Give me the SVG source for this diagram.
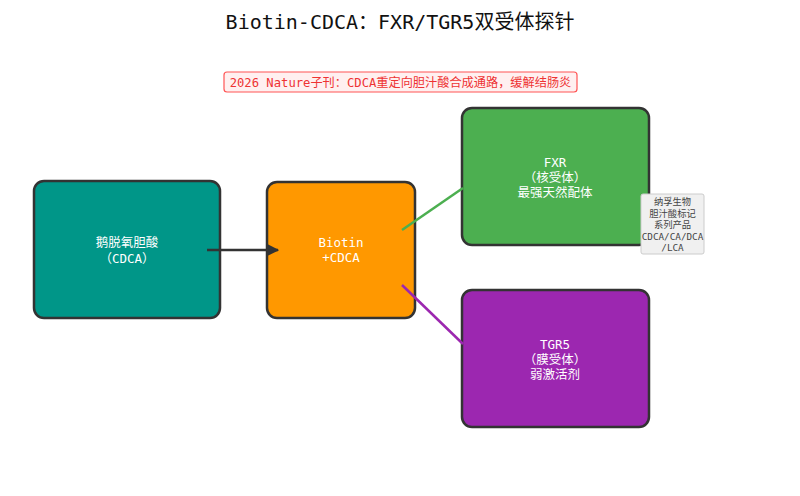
<svg xmlns="http://www.w3.org/2000/svg" width="800" height="496" viewBox="0 0 800 496">
<style>
text{font-family:"DejaVu Sans Mono","Noto Sans CJK SC",monospace;text-anchor:middle}
.node{stroke:#333;stroke-width:2.5}
.lbl{fill:#fff;font-size:12.5px}
.note{fill:#444;font-size:9.3px}
</style>
<defs>
<marker id="ah" viewBox="0 0 10 10" refX="9" refY="5" markerWidth="5" markerHeight="5" orient="auto"><path d="M0,0 L10,5 L0,10 z" fill="#333"/></marker>
</defs>
<rect width="800" height="496" fill="#fff"/>
<text x="400" y="29" font-size="20" fill="#111">Biotin-CDCA：FXR/TGR5双受体探针</text>
<g id="subtitle">
<rect x="224" y="72" width="353" height="20" rx="3" fill="#fff0f0" stroke="#f55" stroke-width="1.2"/>
<text x="400.5" y="86.5" font-size="12.2" fill="#e33">2026 Nature子刊：CDCA重定向胆汁酸合成通路，缓解结肠炎</text>
</g>
<g id="cdca">
<rect class="node" x="34" y="181" width="186" height="137" rx="10" fill="#009688"/>
<text class="lbl" x="127" y="247" font-size="13.5">鹅脱氧胆酸</text>
<text class="lbl" x="127" y="263" font-size="13">（CDCA）</text>
</g>
<g id="biotin">
<rect class="node" x="267" y="182" width="148" height="136" rx="10" fill="#FF9800"/>
<text class="lbl" x="341" y="247" font-size="11">Biotin</text>
<text class="lbl" x="341" y="262" font-size="11">+CDCA</text>
</g>
<g id="fxr">
<rect class="node" x="462" y="108" width="187" height="137" rx="10" fill="#4CAF50"/>
<text class="lbl" x="555" y="167">FXR</text>
<text class="lbl" x="555" y="182">（核受体）</text>
<text class="lbl" x="555" y="197">最强天然配体</text>
</g>
<g id="tgr5">
<rect class="node" x="462" y="290" width="187" height="137" rx="10" fill="#9C27B0"/>
<text class="lbl" x="555" y="349">TGR5</text>
<text class="lbl" x="555" y="364">（膜受体）</text>
<text class="lbl" x="555" y="379">弱激活剂</text>
</g>
<g id="connectors">
<line x1="207" y1="250" x2="278" y2="250" stroke="#333" stroke-width="2.5" marker-end="url(#ah)"/>
<line x1="402" y1="230" x2="463" y2="188" stroke="#4CAF50" stroke-width="2.5"/>
<line x1="402" y1="285" x2="463" y2="344" stroke="#9C27B0" stroke-width="2.5"/>
</g>
<g id="note">
<rect x="641" y="194" width="63" height="60" rx="2" fill="#f0f0f0" stroke="#ccc" stroke-width="1"/>
<text class="note" x="672.5" y="205">纳孚生物</text>
<text class="note" x="672.5" y="216.5">胆汁酸标记</text>
<text class="note" x="672.5" y="228">系列产品</text>
<text class="note" x="672.5" y="239.5">CDCA/CA/DCA</text>
<text class="note" x="672.5" y="251">/LCA</text>
</g>
</svg>
